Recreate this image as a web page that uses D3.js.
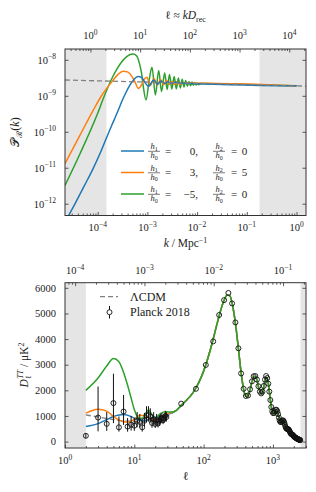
<!DOCTYPE html>
<html>
<head>
<meta charset="utf-8">
<script src="https://cdn.jsdelivr.net/npm/d3@7"></script>
<style>
body { margin:0; background:#fff }
svg text { font-family:'Liberation Serif','DejaVu Serif',serif; fill:#222 }
</style>
</head>
<body>
<svg id="chart" width="316" height="492" font-family="Liberation Serif, DejaVu Serif, serif"></svg>
<script>
var D_REC = 14000

// ---- top panel: primordial spectrum P_R(k)
var lcdmK = [2.2e-5, 1.55]
var lcdmP = [2.75e-9, 1.86e-9]

var blueK = [2.53e-5, 3.49e-5, 5.30e-5, 8.04e-5, 1.165e-4, 1.611e-4, 2.13e-4, 2.60e-4, 3.08e-4, 3.71e-4,
             4.47e-4, 5.37e-4, 6.47e-4, 7.61e-4, 8.95e-4, 1.052e-3, 1.339e-3, 1.597e-3, 1.878e-3, 2.229e-3,
             2.598e-3, 3.054e-3, 3.592e-3, 4.529e-3, 1.0]
var blueP = [4.39e-13, 9.94e-13, 3.02e-12, 9.32e-12, 2.87e-11, 8.57e-11, 2.11e-10, 4.01e-10, 7.16e-10, 1.237e-9,
             2.00e-9, 2.85e-9, 3.46e-9, 3.24e-9, 2.35e-9, 1.82e-9, 2.76e-9, 2.09e-9, 2.59e-9, 2.21e-9,
             2.46e-9, 2.23e-9, 2.38e-9, 2.28e-9, 1.89e-9]

var orangeK = [2.2e-5, 4.41e-5, 8.16e-5, 1.221e-4, 1.94e-4, 2.56e-4, 3.23e-4, 3.98e-4, 4.79e-4, 5.63e-4,
               6.62e-4, 7.61e-4, 8.54e-4, 9.73e-4, 1.144e-3, 1.358e-3, 1.582e-3, 1.835e-3, 2.109e-3, 2.423e-3,
               2.758e-3, 3.126e-3, 3.526e-3, 3.977e-3, 4.445e-3, 5.71e-3, 1.0]
var orangeP = [1.30e-11, 8.04e-11, 4.01e-10, 1.053e-9, 2.48e-9, 3.94e-9, 4.83e-9, 4.62e-9, 3.57e-9, 2.43e-9,
               1.60e-9, 2.00e-9, 2.85e-9, 3.29e-9, 1.94e-9, 3.04e-9, 2.00e-9, 2.85e-9, 2.03e-9, 2.68e-9,
               2.07e-9, 2.54e-9, 2.09e-9, 2.40e-9, 2.11e-9, 2.27e-9, 1.89e-9]

var greenK = [2.2e-5, 4.41e-5, 9.68e-5, 1.37e-4, 1.94e-4, 2.45e-4, 3.08e-4, 3.89e-4, 5.13e-4, 6.04e-4,
              6.78e-4, 7.61e-4, 8.34e-4, 9.37e-4, 1.102e-3, 1.238e-3, 1.449e-3, 1.688e-3, 1.922e-3, 2.229e-3,
              2.491e-3, 2.783e-3, 3.097e-3, 3.46e-3, 3.815e-3, 4.204e-3, 4.592e-3, 5.015e-3, 5.45e-3, 5.896e-3,
              6.379e-3, 6.871e-3, 7.364e-3, 7.89e-3, 8.42e-3, 8.99e-3, 9.548e-3, 1.019e-2, 1.077e-2, 1.144e-2,
              1.442e-2, 1.0]
var greenP = [3.22e-12, 2.45e-11, 2.91e-10, 1.02e-9, 3.08e-9, 5.61e-9, 8.97e-9, 1.252e-8, 1.442e-8, 1.293e-8,
              8.79e-9, 4.33e-9, 1.65e-9, 7.63e-10, 3.14e-9, 6.17e-9, 1.053e-9, 5.09e-9, 1.318e-9, 4.334e-9,
              1.50e-9, 3.94e-9, 1.55e-9, 3.46e-9, 1.55e-9, 3.14e-9, 1.65e-9, 2.89e-9, 1.76e-9, 2.68e-9,
              1.84e-9, 2.51e-9, 1.90e-9, 2.40e-9, 1.96e-9, 2.31e-9, 2.00e-9, 2.25e-9, 2.04e-9, 2.21e-9,
              2.2e-9, 1.89e-9]

var kShade = [[2.2e-5, 1.5e-4], [0.18, 1.55]]
var legendRatios = [['0', '0'], ['3', '5'], ['\u22125', '0']]

// ---- bottom panel: TT spectrum D_l
var lcdmLowEll = [2, 3, 4, 5, 6, 8, 10, 13, 16, 20, 25, 30, 35]
var lcdmLowD   = [1040, 960, 900, 860, 830, 800, 790, 790, 800, 830, 900, 1000, 1110]

var blueLowEll = [2, 3, 4, 5, 6, 7, 8, 10, 12, 14, 17, 21, 25, 30, 35]
var blueLowD   = [590, 700, 860, 980, 1040, 1060, 1030, 920, 840, 830, 880, 960, 1000, 1060, 1130]

var orangeLowEll = [2, 3, 4, 5, 6, 7, 8, 9, 10, 12, 14, 16, 19, 22, 26, 30, 35]
var orangeLowD   = [1110, 1265, 1190, 980, 840, 775, 760, 800, 870, 1030, 1010, 920, 850, 880, 980, 1070, 1150]

var greenLowEll = [2, 3, 4, 5, 6, 7, 8, 9, 10, 11, 12, 14, 16, 18, 20, 24, 28, 35]
var greenLowD   = [2000, 2480, 2950, 3240, 3120, 2700, 2200, 1700, 1250, 980, 900, 980, 1230, 1050, 920, 1100, 1160, 1150]

// all models coincide above l ~ 40
var highEll = [40, 47, 55, 70, 85, 100, 130, 160, 190, 220, 240, 260, 290, 320, 350, 380, 410, 440, 470, 500,
               540, 570, 600, 630, 660, 690, 720, 760, 800, 830, 860, 900, 940, 980, 1020, 1080, 1130, 1180, 1230, 1290,
               1340, 1400, 1460, 1520, 1580, 1650, 1720, 1800, 1900, 2000, 2100, 2200, 2300, 2400, 2500]
var highD   = [1210, 1400, 1580, 1900, 2300, 2750, 3750, 4700, 5400, 5720, 5680, 5350, 4550, 3550, 2620, 2000, 1760, 1800, 2050, 2350,
               2550, 2500, 2300, 2050, 1900, 1860, 1980, 2330, 2500, 2460, 2250, 1820, 1420, 1170, 1080, 1180, 1230, 1100, 900, 770,
               790, 830, 740, 580, 500, 485, 430, 330, 270, 210, 160, 125, 95, 75, 60]

var planckLowEll = [2, 3, 4, 5, 6, 7, 8, 9, 10, 11, 12, 13, 14, 15, 16, 17, 18, 19, 20, 21, 22, 23, 24, 25, 26, 27, 28, 29]
var planckLowD   = [226, 937, 693, 1502, 557, 1172, 586, 659, 621, 815, 769, 557, 814, 1026, 1036, 982, 726, 875, 692, 839,
                    706, 818, 877, 913, 843, 903, 1002, 957]
var planckLowLo  = [130, 400, 420, 720, 390, 650, 390, 430, 420, 560, 540, 390, 580, 760, 780, 740, 540, 670, 530, 650,
                    550, 640, 700, 730, 680, 730, 820, 780]
var planckLowHi  = [330, 2150, 1150, 2650, 980, 1820, 920, 1000, 920, 1150, 1080, 800, 1120, 1380, 1380, 1300, 970, 1150, 900, 1080,
                    900, 1030, 1080, 1120, 1030, 1090, 1200, 1150]

var planckBinEll = [47.5, 77.5, 107.5, 137.5, 167.5, 197.5, 227.5, 257.5, 287.5, 317.5,
                    347.5, 377.5, 407.5, 437.5, 467.5, 497.5, 527.5, 557.5, 587.5, 617.5,
                    647.5, 677.5, 707.5, 737.5, 767.5, 797.5, 827.5, 857.5, 887.5, 917.5,
                    947.5, 977.5, 1007.5, 1037.5, 1067.5, 1097.5, 1127.5, 1157.5, 1187.5, 1217.5,
                    1247.5, 1277.5, 1307.5, 1337.5, 1367.5, 1397.5, 1427.5, 1457.5, 1487.5, 1517.5,
                    1547.5, 1577.5, 1607.5, 1637.5, 1667.5, 1697.5, 1727.5, 1757.5, 1787.5, 1817.5,
                    1847.5, 1877.5, 1907.5, 1937.5, 1967.5, 1997.5, 2027.5, 2057.5, 2087.5, 2117.5,
                    2147.5, 2177.5, 2207.5, 2237.5, 2267.5, 2297.5, 2327.5, 2357.5, 2387.5, 2417.5,
                    2447.5, 2477.5]
var planckBinD   = [1480, 2060, 2990, 3910, 4940, 5520, 5800, 5390, 4650, 3640,
                    2660, 2060, 1780, 1800, 2040, 2350, 2550, 2560, 2420, 2160,
                    1950, 1880, 1950, 2170, 2420, 2560, 2480, 2260, 1950, 1620,
                    1350, 1180, 1110, 1120, 1180, 1240, 1240, 1180, 1070, 940,
                    830, 770, 760, 790, 820, 830, 800, 740, 660, 580,
                    530, 500, 490, 490, 480, 460, 420, 380, 340, 310,
                    290, 280, 270, 255, 235, 210, 190, 175, 165, 155,
                    145, 135, 120, 110, 100, 95, 88, 82, 75, 68,
                    62, 57]

var ellShade = [[1, 2], [2500, 3000]]
var dTicks = [0, 1000, 2000, 3000, 4000, 5000, 6000]

var colors = { blue:'#1f77b4', orange:'#ff7f0e', green:'#2ca02c', lcdm:'#808080', shade:'#e5e5e5', ink:'#333' }

var svg = d3.select('#chart')
var pA = { l:65, r:306, t:49, b:215.5 }
var pB = { l:65, r:306, t:282.7, b:448 }

var xk    = d3.scaleLog().domain([2.2e-5, 1.55]).range([pA.l, pA.r])
var xEllA = d3.scaleLog().domain([2.2e-5 * D_REC, 1.55 * D_REC]).range([pA.l, pA.r])
var yP    = d3.scaleLog().domain([4.7e-13, 2.0e-8]).range([pA.b, pA.t])
var xl    = d3.scaleLog().domain([1, 3000]).range([pB.l, pB.r])
var xkB   = d3.scaleLog().domain([1 / D_REC, 3000 / D_REC]).range([pB.l, pB.r])
var yD    = d3.scaleLinear().domain([-250, 6200]).range([pB.b, pB.t])

var zip = (a, b)=> a.map((v, i)=> [v, b[i]])

function decades(scale)
{
    var d = scale.domain()
    return d3.range(Math.ceil(Math.log10(d[0]) - 1e-9), Math.floor(Math.log10(d[1]) + 1e-9) + 1)
}

function minors(scale)
{
    var d = scale.domain(), out = []
    d3.range(Math.floor(Math.log10(d[0])), Math.ceil(Math.log10(d[1]))).forEach(e=> {
        for (var m = 2; m < 10; m++) {
            var v = m * Math.pow(10, e)
            if (v >= d[0] && v <= d[1]) out.push(v)
        }
    })
    return out
}

function tickLayer(axisFn, scale, values, size, tx, ty)
{
    svg.append('g')
        .attr('transform', 'translate(' + tx + ',' + ty + ')')
        .attr('color', colors.ink)
        .call(axisFn(scale).tickValues(values).tickSizeInner(-size).tickSizeOuter(0).tickFormat(''))
        .call(s=> { s.select('.domain').remove(); s.selectAll('line').attr('stroke-width', 0.8) })
}

function powLabel(x, y, e, anchor)
{
    var t = svg.append('text').attr('x', x).attr('y', y).attr('text-anchor', anchor).attr('font-size', 10.5)
    t.append('tspan').text('10')
    t.append('tspan').attr('dy', -4.5).attr('font-size', 7.5).text(e < 0 ? '\u2212' + (-e) : String(e))
}

function clip(id, p)
{
    svg.append('clipPath').attr('id', id)
        .append('rect').attr('x', p.l).attr('y', p.t).attr('width', p.r - p.l).attr('height', p.b - p.t)
}

function frame(p)
{
    svg.append('rect').attr('x', p.l).attr('y', p.t).attr('width', p.r - p.l).attr('height', p.b - p.t)
        .attr('fill', 'none').attr('stroke', colors.ink).attr('stroke-width', 1)
}

clip('clipA', pA)
clip('clipB', pB)

// ================= top panel
var gA = svg.append('g').attr('clip-path', 'url(#clipA)')

gA.selectAll('rect.shade').data(kShade).enter().append('rect')
    .attr('x', d=> xk(d[0])).attr('width', d=> xk(d[1]) - xk(d[0]))
    .attr('y', pA.t).attr('height', pA.b - pA.t)
    .attr('fill', colors.shade)

var lineA = d3.line().x(d=> xk(d[0])).y(d=> yP(d[1])).curve(d3.curveMonotoneX)

var topSeries = [
    { k:greenK,  p:greenP,  c:colors.green },
    { k:orangeK, p:orangeP, c:colors.orange },
    { k:blueK,   p:blueP,   c:colors.blue }
]
topSeries.forEach(s=> {
    gA.append('path').datum(zip(s.k, s.p))
        .attr('d', lineA).attr('fill', 'none').attr('stroke', s.c).attr('stroke-width', 1.5)
})
gA.append('path').datum(zip(lcdmK, lcdmP))
    .attr('d', d3.line().x(d=> xk(d[0])).y(d=> yP(d[1])))
    .attr('fill', 'none').attr('stroke', colors.lcdm).attr('stroke-width', 1.3).attr('stroke-dasharray', '5,3')

frame(pA)
tickLayer(d3.axisBottom, xk, decades(xk).map(e=> Math.pow(10, e)), 3.5, 0, pA.b)
tickLayer(d3.axisBottom, xk, minors(xk), 2, 0, pA.b)
tickLayer(d3.axisTop, xEllA, decades(xEllA).map(e=> Math.pow(10, e)), 3.5, 0, pA.t)
tickLayer(d3.axisTop, xEllA, minors(xEllA), 2, 0, pA.t)
tickLayer(d3.axisLeft, yP, decades(yP).map(e=> Math.pow(10, e)), 3.5, pA.l, 0)
tickLayer(d3.axisRight, yP, decades(yP).map(e=> Math.pow(10, e)), 3.5, pA.r, 0)

decades(xk).forEach(e=> powLabel(xk(Math.pow(10, e)), 231, e, 'middle'))
decades(xEllA).forEach(e=> powLabel(xEllA(Math.pow(10, e)), 39, e, 'middle'))
decades(yP).forEach(e=> powLabel(56, yP(Math.pow(10, e)) + 4, e, 'end'))

// axis titles (top panel)
var tA = svg.append('text').attr('x', 185.5).attr('y', 19).attr('text-anchor', 'middle').attr('font-size', 11.5)
tA.append('tspan').text('\u2113 \u2248 ')
tA.append('tspan').attr('font-style', 'italic').text('kD')
tA.append('tspan').attr('dy', 2.5).attr('font-size', 8).text('rec')

var xA = svg.append('text').attr('x', 185.5).attr('y', 247).attr('text-anchor', 'middle').attr('font-size', 11.5)
xA.append('tspan').attr('font-style', 'italic').text('k')
xA.append('tspan').text(' / Mpc')
xA.append('tspan').attr('dy', -4.5).attr('font-size', 8).text('\u22121')

var yA = svg.append('text').attr('transform', 'translate(19,132) rotate(-90)').attr('text-anchor', 'middle').attr('font-size', 12)
yA.append('tspan').text('\ud835\udcab')
yA.append('tspan').attr('dy', 3).attr('font-size', 8).text('\u211b')
yA.append('tspan').attr('dy', -3).text('(')
yA.append('tspan').attr('font-style', 'italic').text('k')
yA.append('tspan').text(')')

// legend (top panel)
function frac(g, cx, cy, sub)
{
    var n = g.append('text').attr('x', cx).attr('y', cy - 1.8).attr('text-anchor', 'middle').attr('font-size', 8.5)
    n.append('tspan').attr('font-style', 'italic').text('h')
    n.append('tspan').attr('dy', 1.5).attr('font-size', 6).text(sub)
    var d = g.append('text').attr('x', cx).attr('y', cy + 7.3).attr('text-anchor', 'middle').attr('font-size', 8.5)
    d.append('tspan').attr('font-style', 'italic').text('h')
    d.append('tspan').attr('dy', 1.5).attr('font-size', 6).text('0')
    g.append('line').attr('x1', cx - 6).attr('x2', cx + 6).attr('y1', cy + 0.3).attr('y2', cy + 0.3)
        .attr('stroke', '#222').attr('stroke-width', 0.6)
}

var legA = svg.append('g')
var legRows = [151, 172.5, 194]
var legColors = [colors.blue, colors.orange, colors.green]
legendRatios.forEach((r, i)=> {
    var y = legRows[i]
    legA.append('line').attr('x1', 121).attr('x2', 144).attr('y1', y).attr('y2', y)
        .attr('stroke', legColors[i]).attr('stroke-width', 1.5)
    frac(legA, 154, y, '1')
    legA.append('text').attr('x', 168).attr('y', y + 3.5).attr('text-anchor', 'middle').attr('font-size', 11).text('=')
    legA.append('text').attr('x', 198).attr('y', y + 3.5).attr('text-anchor', 'end').attr('font-size', 11).text(r[0] + ',')
    frac(legA, 219, y, '2')
    legA.append('text').attr('x', 234).attr('y', y + 3.5).attr('text-anchor', 'middle').attr('font-size', 11).text('=')
    legA.append('text').attr('x', 244.5).attr('y', y + 3.5).attr('text-anchor', 'middle').attr('font-size', 11).text(r[1])
})

// ================= bottom panel
var gB = svg.append('g').attr('clip-path', 'url(#clipB)')

gB.selectAll('rect.shade').data(ellShade).enter().append('rect')
    .attr('x', d=> xl(d[0])).attr('width', d=> xl(d[1]) - xl(d[0]))
    .attr('y', pB.t).attr('height', pB.b - pB.t)
    .attr('fill', colors.shade)

var lineB = d3.line().x(d=> xl(d[0])).y(d=> yD(d[1])).curve(d3.curveMonotoneX)
var highPts = zip(highEll, highD)

gB.append('path').datum(zip(lcdmLowEll, lcdmLowD).concat(highPts))
    .attr('d', lineB).attr('fill', 'none').attr('stroke', colors.lcdm).attr('stroke-width', 1.3).attr('stroke-dasharray', '5,3')

var botSeries = [
    { e:blueLowEll,   d:blueLowD,   c:colors.blue },
    { e:orangeLowEll, d:orangeLowD, c:colors.orange },
    { e:greenLowEll,  d:greenLowD,  c:colors.green }
]
botSeries.forEach(s=> {
    gB.append('path').datum(zip(s.e, s.d).concat(highPts))
        .attr('d', lineB).attr('fill', 'none').attr('stroke', s.c).attr('stroke-width', 1.5)
})

// Planck 2018 points
var lowPts = planckLowEll.map((e, i)=> ({ e:e, d:planckLowD[i], lo:planckLowLo[i], hi:planckLowHi[i] }))
gB.selectAll('line.err').data(lowPts).enter().append('line')
    .attr('x1', d=> xl(d.e)).attr('x2', d=> xl(d.e))
    .attr('y1', d=> yD(d.lo)).attr('y2', d=> yD(d.hi))
    .attr('stroke', '#111').attr('stroke-width', 1)

var allPts = lowPts.concat(planckBinEll.map((e, i)=> ({ e:e, d:planckBinD[i] })))
gB.selectAll('circle.pt').data(allPts).enter().append('circle')
    .attr('cx', d=> xl(d.e)).attr('cy', d=> yD(d.d)).attr('r', 2.5)
    .attr('fill', 'none').attr('stroke', '#111').attr('stroke-width', 0.9)

frame(pB)
tickLayer(d3.axisBottom, xl, decades(xl).map(e=> Math.pow(10, e)), 3.5, 0, pB.b)
tickLayer(d3.axisBottom, xl, minors(xl), 2, 0, pB.b)
tickLayer(d3.axisTop, xkB, decades(xkB).map(e=> Math.pow(10, e)), 3.5, 0, pB.t)
tickLayer(d3.axisTop, xkB, minors(xkB), 2, 0, pB.t)
tickLayer(d3.axisLeft, yD, dTicks, 3.5, pB.l, 0)
tickLayer(d3.axisRight, yD, dTicks, 3.5, pB.r, 0)

decades(xl).forEach(e=> powLabel(xl(Math.pow(10, e)), 464, e, 'middle'))
decades(xkB).forEach(e=> powLabel(xkB(Math.pow(10, e)), 274, e, 'middle'))
dTicks.forEach(v=> svg.append('text').attr('x', 56).attr('y', yD(v) + 3.7)
    .attr('text-anchor', 'end').attr('font-size', 10.5).text(v))

svg.append('text').attr('x', 185.5).attr('y', 480).attr('text-anchor', 'middle')
    .attr('font-size', 12).text('\u2113')

var yB = svg.append('text').attr('transform', 'translate(28,365) rotate(-90)').attr('text-anchor', 'middle').attr('font-size', 11.5)
yB.append('tspan').attr('font-style', 'italic').text('D')
yB.append('tspan').attr('dy', 3).attr('font-size', 8).text('\u2113')
yB.append('tspan').attr('dx', -3.5).attr('dy', -8).attr('font-size', 8).attr('font-style', 'italic').text('TT')
yB.append('tspan').attr('dy', 5).text(' / \u03bcK')
yB.append('tspan').attr('dy', -4.5).attr('font-size', 8).text('2')

// legend (bottom panel)
var legB = svg.append('g')
legB.append('line').attr('x1', 100).attr('x2', 118).attr('y1', 296.7).attr('y2', 296.7)
    .attr('stroke', colors.lcdm).attr('stroke-width', 1.3).attr('stroke-dasharray', '5,3')
legB.append('text').attr('x', 130).attr('y', 300.7).attr('font-size', 12).text('\u039bCDM')
legB.append('line').attr('x1', 109.5).attr('x2', 109.5).attr('y1', 306).attr('y2', 318.5)
    .attr('stroke', '#111').attr('stroke-width', 1)
legB.append('circle').attr('cx', 109.5).attr('cy', 312.2).attr('r', 2.5)
    .attr('fill', '#fff').attr('stroke', '#111').attr('stroke-width', 0.9)
legB.append('text').attr('x', 130).attr('y', 316.2).attr('font-size', 12).text('Planck 2018')
</script>
</body>
</html>
